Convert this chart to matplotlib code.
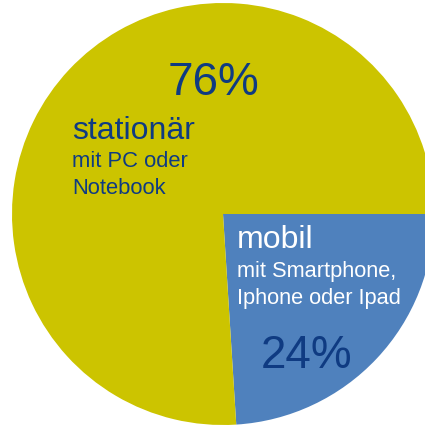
import matplotlib.pyplot as plt

# share of internet use by device type
labels = ["mobil", "stationär"]
shares = [24, 76]
pct_labels = ["24%", "76%"]
sub_labels = ["mit Smartphone,\nIphone oder Ipad", "mit PC oder\nNotebook"]

YELLOW = "#ccc400"
BLUE = "#4f81bd"
NAVY = "#0f3b82"

plt.rcParams["font.family"] = ["Liberation Sans", "DejaVu Sans"]

fig = plt.figure(figsize=(4.25, 4.27), dpi=100)
ax = fig.add_axes([0, 0, 1, 1])
ax.pie(
    shares,
    colors=[BLUE, YELLOW],
    startangle=0,
    counterclock=True,
    center=(223, 215),
    radius=211,
    wedgeprops={"linewidth": 0},
)
# pixel coordinates, y pointing down
ax.set_xlim(0, 425)
ax.set_ylim(427, 0)
ax.set_aspect("equal")
ax.axis("off")

# stationary slice
ax.text(214, 95, pct_labels[1], fontsize=33, color=NAVY, ha="center", va="baseline")
ax.text(72, 139, labels[1], fontsize=23, color=NAVY, ha="left", va="baseline")
ax.text(72, 167, sub_labels[1].split("\n")[0], fontsize=15.8, color=NAVY,
        ha="left", va="baseline")
ax.text(72, 194, sub_labels[1].split("\n")[1], fontsize=15.8, color=NAVY,
        ha="left", va="baseline")

# mobile slice
ax.text(237, 248, labels[0], fontsize=23, color="white", ha="left", va="baseline")
ax.text(237, 277, sub_labels[0].split("\n")[0], fontsize=15.7, color="white",
        ha="left", va="baseline")
ax.text(237, 304, sub_labels[0].split("\n")[1], fontsize=15.7, color="white",
        ha="left", va="baseline")
ax.text(307, 368, pct_labels[0], fontsize=33, color=NAVY, ha="center", va="baseline")

fig.savefig("out.png", dpi=100, facecolor="white")
